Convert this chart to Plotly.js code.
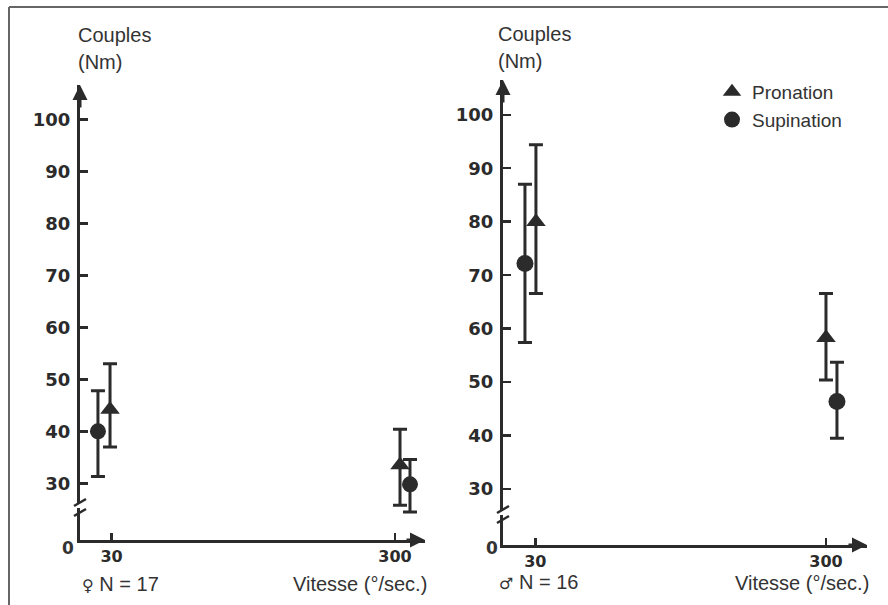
<!DOCTYPE html>
<html>
<head>
<meta charset="utf-8">
<script src="https://cdn.plot.ly/plotly-3.0.1.min.js"></script>
<style>html,body{margin:0;padding:0;background:#fff;}#chart{width:888px;height:605px;}</style>
</head>
<body>
<div id="chart"></div>
<script>
// ---------- data ----------
const speeds = [30, 300];                 // Vitesse (°/sec.)
const xTickValues = [30, 300];
const xTickLabels = ["30", "300"];
const yTickValues = [30, 40, 50, 60, 70, 80, 90, 100];
const yTickLabels = ["30", "40", "50", "60", "70", "80", "90", "100"];

// Women (♀ N = 17)
const femalePronation     = [44.2, 33.5];
const femalePronationHigh = [53.0, 40.4];
const femalePronationLow  = [37.0, 25.8];
const femaleSupination     = [40.0, 29.8];
const femaleSupinationHigh = [47.8, 34.6];
const femaleSupinationLow  = [31.3, 24.5];

// Men (♂ N = 16)
const malePronation     = [80.0, 58.3];
const malePronationHigh = [94.4, 66.6];
const malePronationLow  = [66.6, 50.4];
const maleSupination     = [72.2, 46.4];
const maleSupinationHigh = [87.0, 53.7];
const maleSupinationLow  = [57.4, 39.5];

const seriesNames = ["Pronation", "Supination"];
const panelLabels = ["♀", "♂"];
const panelCounts = ["N = 17", "N = 16"];

// ---------- style / layout ----------
const W = 888, H = 605;
const INK = "#2b2b2b";
const TEXT = "#333333";
const SANS = "Liberation Sans, Arial, sans-serif";
const HAND = "DejaVu Sans, sans-serif";
// small horizontal dodge (in °/sec units) so the two series do not overlap
const dodge = {
  femalePro: [-1.4, 4.8], femaleSup: [-12.9, 14.3],
  malePro: [0.6, 0.0],    maleSup: [-9.6, 10.2]
};
const px = x => x / W;
const py = y => (H - y) / H;

function trace(xa, ya, off, mean, hi, lo, name, symbol, size, showlegend) {
  return {
    type: "scatter", mode: "markers", xaxis: xa, yaxis: ya, name: name,
    showlegend: showlegend, legendrank: name === "Pronation" ? 1 : 2,
    x: speeds.map((s, i) => s + off[i]), y: mean,
    marker: {symbol: symbol, size: size, color: INK},
    error_y: {type: "data", symmetric: false,
      array: hi.map((h, i) => h - mean[i]),
      arrayminus: lo.map((l, i) => mean[i] - l),
      color: INK, thickness: 3, width: 7}
  };
}

const data = [
  trace("x", "y", dodge.femaleSup, femaleSupination, femaleSupinationHigh, femaleSupinationLow, seriesNames[1], "circle", 16, false),
  trace("x", "y", dodge.femalePro, femalePronation, femalePronationHigh, femalePronationLow, seriesNames[0], "triangle-up", 17, false),
  trace("x2", "y2", dodge.maleSup, maleSupination, maleSupinationHigh, maleSupinationLow, seriesNames[1], "circle", 17, true),
  trace("x2", "y2", dodge.malePro, malePronation, malePronationHigh, malePronationLow, seriesNames[0], "triangle-up", 17, true)
];

function xAxis(domain, range, anchor) {
  return {domain: domain, range: range, anchor: anchor, showgrid: false, zeroline: false,
    showline: true, linecolor: INK, linewidth: 3,
    tickmode: "array", tickvals: xTickValues, ticktext: xTickLabels,
    ticks: "inside", ticklen: 7, tickwidth: 2.5, tickcolor: INK,
    ticklabelstandoff: 0,
    tickfont: {family: HAND, size: 16, weight: "bold", color: INK}, fixedrange: true};
}
function yAxis(domain, range, anchor) {
  return {domain: domain, range: range, anchor: anchor, showgrid: false, zeroline: false,
    showline: true, linecolor: INK, linewidth: 3,
    tickmode: "array", tickvals: yTickValues, ticktext: yTickLabels,
    ticks: "inside", ticklen: 8, tickwidth: 2.5, tickcolor: INK,
    ticklabelstandoff: 3,
    tickfont: {family: HAND, size: 18, weight: "bold", color: INK}, fixedrange: true};
}

const L = {x0: 80, x1: 425, yTop: 85, yBot: 540, xr: [0, 328.6], yr: [19.1, 106.6]};
const R = {x0: 503, x1: 867, yTop: 80, yBot: 545, xr: [0, 338.1], yr: [19.55, 106.5]};

const annotations = [];
function txt(x, y, text, size, anchor, family, weight) {
  annotations.push({xref: "paper", yref: "paper", x: px(x), y: py(y), text: text, showarrow: false,
    xanchor: anchor, yanchor: "middle", font: {family: family || SANS, size: size, color: TEXT, weight: weight || "normal"}});
}
function arrows(xa, ya, P) {
  // x-axis arrow
  annotations.push({xref: xa, yref: ya, x: P.xr[1], y: P.yr[0], ax: -20, ay: 0, axref: "pixel", ayref: "pixel",
    showarrow: true, arrowhead: 2, arrowsize: 1, arrowwidth: 3, arrowcolor: INK, standoff: 0, text: ""});
  // y-axis arrow
  annotations.push({xref: xa, yref: ya, x: 0, y: P.yr[1], ax: 0, ay: 24, axref: "pixel", ayref: "pixel",
    showarrow: true, arrowhead: 2, arrowsize: 1, arrowwidth: 3, arrowcolor: INK, standoff: 0, text: ""});
}
arrows("x", "y", L);
arrows("x2", "y2", R);

const sym = s => "<span style='font-family:DejaVu Sans;font-size:16px'>" + s + "</span>";

// axis titles and labels
txt(76, 35, "Couples", 20, "left");
txt(76, 62, "(Nm)", 20, "left");
txt(496, 34, "Couples", 20, "left");
txt(496, 61, "(Nm)", 20, "left");
txt(68, 548, "0", 17, "center", HAND, "bold");
txt(492, 548, "0", 17, "center", HAND, "bold");
txt(80, 584, sym(panelLabels[0]) + " " + panelCounts[0], 20, "left");
txt(497, 582, sym(panelLabels[1]) + " " + panelCounts[1], 20, "left");
txt(429, 584, "Vitesse (°/sec.)", 20, "right");
txt(871, 583, "Vitesse (°/sec.)", 20, "right");

// frame and axis breaks
const shapes = [
  {type: "line", xref: "paper", yref: "paper", x0: px(9), x1: 1, y0: py(7), y1: py(7), line: {color: "#666", width: 2}},
  {type: "line", xref: "paper", yref: "paper", x0: px(9), x1: px(9), y0: py(7), y1: 0, line: {color: "#666", width: 2}}
];
function brk(ax, p1, p2) {
  shapes.push({type: "rect", xref: "paper", yref: "paper", x0: px(ax - 3), x1: px(ax + 3), y0: py(p2 - 3), y1: py(p1 + 3),
    fillcolor: "#fff", line: {width: 0}, layer: "above"});
  shapes.push({type: "line", xref: "paper", yref: "paper", x0: px(ax - 6), x1: px(ax + 6), y0: py(p1 + 5), y1: py(p1 - 2),
    line: {color: INK, width: 2.5}, layer: "above"});
  shapes.push({type: "line", xref: "paper", yref: "paper", x0: px(ax - 6), x1: px(ax + 6), y0: py(p2 + 5), y1: py(p2 - 2),
    line: {color: INK, width: 2.5}, layer: "above"});
}
brk(80, 501, 511);
brk(503, 508, 518);

const layout = {
  width: W, height: H, autosize: false,
  margin: {l: 0, r: 0, t: 0, b: 0},
  paper_bgcolor: "#fff", plot_bgcolor: "rgba(0,0,0,0)",
  xaxis: xAxis([px(L.x0), px(L.x1)], L.xr, "y"),
  yaxis: yAxis([py(L.yBot), py(L.yTop)], L.yr, "x"),
  xaxis2: xAxis([px(R.x0), px(R.x1)], R.xr, "y2"),
  yaxis2: yAxis([py(R.yBot), py(R.yTop)], R.yr, "x2"),
  showlegend: true,
  legend: {x: px(712), y: py(73), xanchor: "left", yanchor: "top", traceorder: "normal",
    bgcolor: "rgba(0,0,0,0)", font: {family: SANS, size: 19, color: TEXT}, itemwidth: 30},
  annotations: annotations,
  shapes: shapes
};

Plotly.newPlot("chart", data, layout, {displayModeBar: false, staticPlot: true});
</script>
</body>
</html>
